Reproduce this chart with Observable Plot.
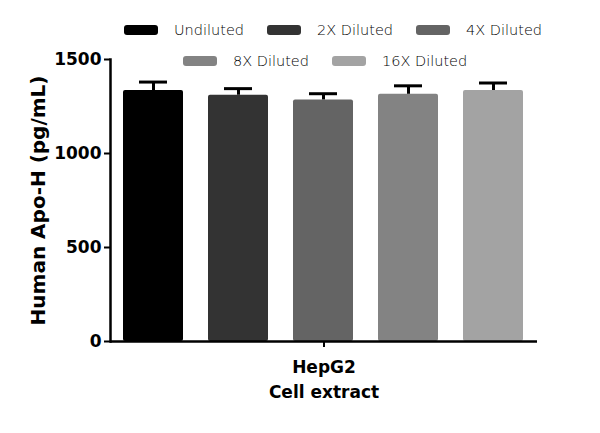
<!DOCTYPE html>
<html>
<head>
<meta charset="utf-8">
<script src="https://cdn.jsdelivr.net/npm/d3@7"></script>
<script src="https://cdn.jsdelivr.net/npm/@observablehq/plot@0.6"></script>
<style>
  body { margin: 0; background: #fff; }
  #wrap { position: relative; width: 600px; height: 433px; background: #fff; }
  .lrow { position: absolute; display: flex; align-items: center; font-family: "DejaVu Sans", sans-serif; font-weight: 200; font-size: 14.5px; color: #000; }
  .litem { display: flex; align-items: center; margin-right: 23px; }
  .sw { width: 34px; height: 10px; border-radius: 3px; margin-right: 16px; }
</style>
</head>
<body>
<div id="wrap"></div>
<script>
const groups = ["HepG2\nCell extract"];
const dilutions = ["Undiluted", "2X Diluted", "4X Diluted", "8X Diluted", "16X Diluted"];
const values = [1335, 1310, 1285, 1315, 1335];
const errors = [45, 35, 33, 45, 40];
const colors = ["#000000", "#333333", "#646464", "#838383", "#a3a3a3"];
const yTicks = [0, 500, 1000, 1500];
const yLabel = "Human Apo-H (pg/mL)";
const legendRows = [[0, 1, 2], [3, 4]];
const legendRowLeft = [124, 183];
const legendRowTop = [22, 53];

const data = dilutions.map((d, i) => ({group: groups[0], dilution: d, value: values[i], err: errors[i]}));

const chart = Plot.plot({
  width: 600,
  height: 433,
  marginLeft: 110,
  marginRight: 63,
  marginTop: 59,
  marginBottom: 92,
  style: {background: "transparent", color: "#000"},
  fx: {domain: groups, padding: 0},
  x: {domain: dilutions, paddingInner: 0.29, paddingOuter: 0.155, axis: null},
  y: {domain: [0, 1500]},
  color: {domain: dilutions, range: colors},
  marks: [
    Plot.barY(data, {fx: "group", x: "dilution", y: "value", fill: "dilution", rx: 2}),
    Plot.ruleX(data, {fx: "group", x: "dilution", y1: "value", y2: d => d.value + d.err, stroke: "#000", strokeWidth: 3}),
    Plot.tickY(data, {fx: "group", x: "dilution", y: d => d.value + d.err, stroke: "#000", strokeWidth: 3, insetLeft: 16, insetRight: 16}),
    Plot.ruleY([0], {stroke: "#000", strokeWidth: 2.5}),
    Plot.frame({anchor: "left", stroke: "#000", strokeWidth: 2.5}),
    Plot.axisY({ticks: yTicks, tickFormat: d => String(d), tickSize: 6, tickPadding: 3, strokeWidth: 2, fontSize: 17, fontWeight: "bold", fontFamily: "DejaVu Sans", label: null}),
    Plot.axisFx({anchor: "bottom", tickSize: 6, tickPadding: 8, strokeWidth: 2, fontSize: 17, fontWeight: "bold", fontFamily: "DejaVu Sans", lineHeight: 1.45, label: null}),
    Plot.text([yLabel], {frameAnchor: "left", textAnchor: "middle", rotate: -90, dx: -72, fontSize: 20, fontWeight: "bold", fontFamily: "DejaVu Sans", fill: "#000"})
  ]
});

const wrap = document.getElementById("wrap");
wrap.appendChild(chart);
chart.style.position = "absolute";
chart.style.left = "0";
chart.style.top = "0";

legendRows.forEach((row, r) => {
  const div = document.createElement("div");
  div.className = "lrow";
  div.style.left = legendRowLeft[r] + "px";
  div.style.top = legendRowTop[r] + "px";
  row.forEach(i => {
    const item = document.createElement("div");
    item.className = "litem";
    const sw = document.createElement("div");
    sw.className = "sw";
    sw.style.background = colors[i];
    const t = document.createElement("span");
    t.textContent = dilutions[i];
    item.appendChild(sw);
    item.appendChild(t);
    div.appendChild(item);
  });
  wrap.appendChild(div);
});
</script>
</body>
</html>
